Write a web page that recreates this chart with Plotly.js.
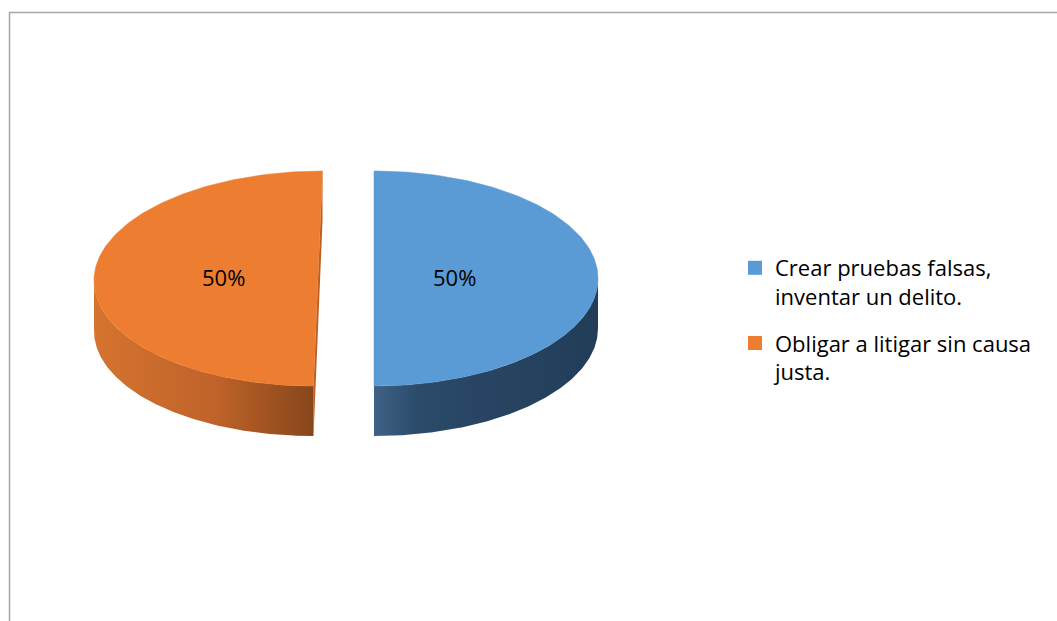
<!DOCTYPE html>
<html>
<head>
<meta charset="utf-8">
<script src="https://cdn.plot.ly/plotly-3.0.1.min.js"></script>
<style>html,body{margin:0;padding:0;background:#fff;}#chart{width:1057px;height:621px;}</style>
</head>
<body>
<div id="chart"></div>
<script>
// ---- data ----
const categories = ['Crear pruebas falsas,<br>inventar un delito.', 'Obligar a litigar sin causa<br>justa.'];
const values = [50, 50];

// ---- styles ----
const topColors = ['#5B9BD5', '#ED7D31'];
const sideScales = [
  [[0, '#3E6286'], [0.2, '#2B4A69'], [1, '#213D58']],
  [[0, '#D5742F'], [0.55, '#C0632A'], [1, '#86461A']]
];
const cutColors = ['#2B4A69', '#B85E22'];
const tilt = [0, 0.042];
const FONT = '"Open Sans", "Noto Sans", sans-serif';

// ---- geometry (pixels) ----
const W = 1057, H = 621;
const CX = 346, CY = 278.5, RA = 224, RB = 107.5, DEPTH = 50, EXPLODE = 28, N = 160;
const LABEL_R = 0.39, LABEL_DX = -7, LABEL_DY = -2;

const total = values.reduce((a, b) => a + b, 0);
const rad = d => d * Math.PI / 180;

const sides = [], cuts = [], tops = [];
const annotations = [];
let start = 0;
values.forEach((v, i) => {
  const a0 = start, a1 = start + v / total * 360;
  start = a1;
  const mid = (a0 + a1) / 2;
  const ox = EXPLODE * Math.sin(rad(mid));
  const oy = -EXPLODE * Math.cos(rad(mid)) * RB / RA;
  const cx = CX + ox, cy = CY + oy;
  const pt = (t, dz) => {
    const y = cy - RB * Math.cos(rad(t));
    const x = cx + RA * Math.sin(rad(t)) - tilt[i] * (y - cy);
    return [x, y + (dz || 0)];
  };
  // top face
  const tx = [cx], ty = [cy];
  for (let k = 0; k <= N; k++) { const p = pt(a0 + (a1 - a0) * k / N); tx.push(p[0]); ty.push(p[1]); }
  tx.push(cx); ty.push(cy);
  tops.push({x: tx, y: ty, mode: 'lines', fill: 'toself', fillcolor: topColors[i],
    line: {color: topColors[i], width: 0.5}, hoverinfo: 'skip', showlegend: false});
  // cut wall
  const pA = pt(a0), pB = pt(a1);
  cuts.push({x: [pB[0], pA[0], pA[0], pB[0], pB[0]], y: [pB[1], pA[1], pA[1] + DEPTH, pB[1] + DEPTH, pB[1]],
    mode: 'lines', fill: 'toself', fillcolor: cutColors[i], line: {color: cutColors[i], width: 0},
    hoverinfo: 'skip', showlegend: false});
  // front side wall
  const s0 = Math.max(a0, 90), s1 = Math.min(a1, 270);
  if (s1 > s0) {
    const sx = [], sy = [];
    for (let k = 0; k <= N; k++) { const p = pt(s0 + (s1 - s0) * k / N); sx.push(p[0]); sy.push(p[1]); }
    for (let k = N; k >= 0; k--) { const p = pt(s0 + (s1 - s0) * k / N, DEPTH); sx.push(p[0]); sy.push(p[1]); }
    sx.push(sx[0]); sy.push(sy[0]);
    sides.push({x: sx, y: sy, mode: 'lines', fill: 'toself',
      fillgradient: {type: 'horizontal', colorscale: sideScales[i]},
      line: {color: 'rgba(0,0,0,0)', width: 0}, hoverinfo: 'skip', showlegend: false});
  }
  // label
  annotations.push({x: cx + LABEL_DX + LABEL_R * RA * Math.sin(rad(mid)),
    y: cy + LABEL_DY - LABEL_R * RB * Math.cos(rad(mid)),
    xref: 'x', yref: 'y', text: Math.round(v / total * 100) + '%', showarrow: false,
    font: {family: FONT, size: 22, color: '#000000'}});
});

// legend entries
const legendTraces = categories.map((c, i) => ({
  x: [null], y: [null], mode: 'markers', name: c, legendgroup: 'g' + i,
  marker: {symbol: 'square', size: 14, color: topColors[i]}, hoverinfo: 'skip'
}));

const data = [...cuts, ...sides, ...tops, ...legendTraces];

const layout = {
  width: W, height: H,
  margin: {l: 0, r: 0, t: 0, b: 0},
  paper_bgcolor: '#ffffff', plot_bgcolor: '#ffffff',
  xaxis: {range: [0, W], visible: false, fixedrange: true},
  yaxis: {range: [H, 0], visible: false, fixedrange: true},
  showlegend: true,
  legend: {x: 735 / W, xanchor: 'left', y: 1 - 247 / H, yanchor: 'top',
    font: {family: FONT, size: 22, color: '#000000'},
    bgcolor: 'rgba(0,0,0,0)', borderwidth: 0, valign: 'top', tracegroupgap: 15,
    itemclick: false, itemdoubleclick: false},
  annotations: annotations,
  shapes: [{type: 'rect', xref: 'x', yref: 'y', x0: 9.5, y0: 12.5, x1: W + 50, y1: H + 50,
    line: {color: '#A6A6A6', width: 1.5}, layer: 'above'}],
  hovermode: false
};

Plotly.newPlot('chart', data, layout, {staticPlot: true, displayModeBar: false});
</script>
</body>
</html>
